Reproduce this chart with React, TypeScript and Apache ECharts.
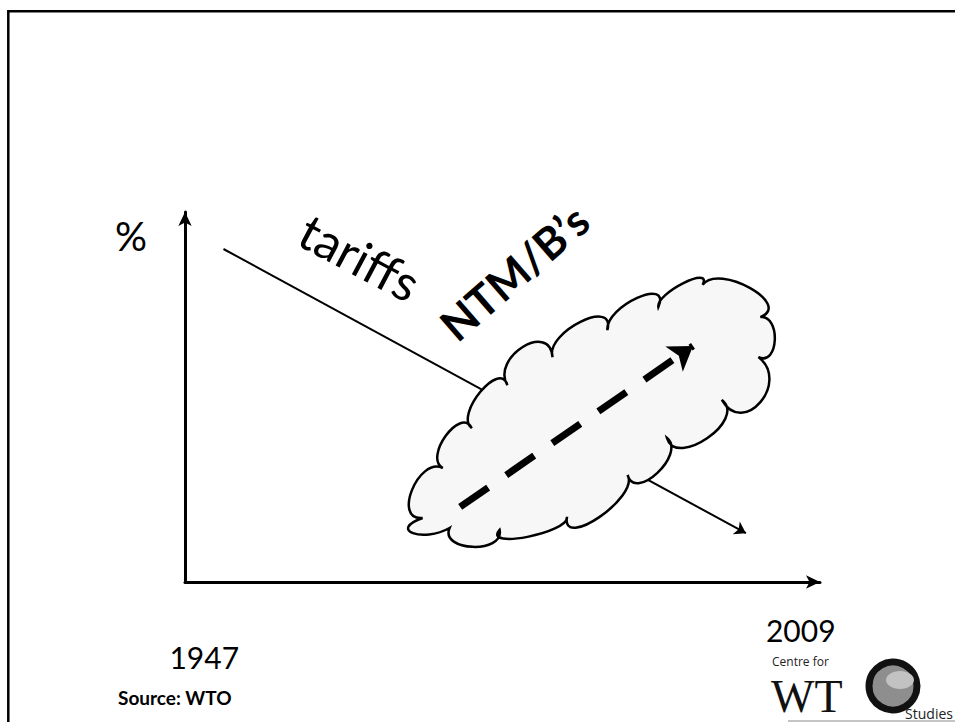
import React, { useEffect, useRef } from "react";
import * as echarts from "echarts";

// ---- data (years on x, % on y) ----
const YEAR_TICKS = [1947, 2009];
const Y_TITLE = "%";
const TARIFF_LABEL = "tariffs";
const NTM_LABEL = "NTM/B\u2019s";
const SOURCE_LABEL = "Source: WTO";

// tariffs: falling line
const tariffYears = [1949.0, 2003.3];
const tariffValues = [90.0, 13.2];

// NTM/B's: rising dashed arrow
const ntmYears = [1973.6, 1997.8];
const ntmValues = [20.3, 63.8];

// cloud outline: cusp points between lobes, and the outermost point of each lobe
const cloudCuspYears = [1969.7, 1971.8, 1974.8, 1978.5, 1983.2, 1988.9, 1994.2, 1998.8, 2004.8, 2004.6, 2000.8, 1995.1, 1991.0, 1984.7, 1977.7, 1972.5];
const cloudCuspValues = [17.3, 30.8, 41.6, 53.2, 60.8, 68.1, 74.3, 80.3, 71.6, 60.8, 49.2, 38.9, 28.9, 17.6, 14.1, 14.6];
const cloudPeakYears = [1968.6, 1972.1, 1975.7, 1980.1, 1986.1, 1992.0, 1996.8, 2003.7, 2006.3, 2004.8, 1999.3, 1994.1, 1988.1, 1980.6, 1974.9, 1968.7];
const cloudPeakValues = [24.9, 39.5, 51.4, 63.5, 70.3, 76.8, 80.8, 79.5, 65.4, 48.6, 38.9, 29.5, 17.6, 12.2, 9.5, 13.2];

const FONT = "Lato, 'Open Sans', sans-serif";

function makeAxisLine() {
  return {
    show: true,
    symbol: ["none", "arrow"],
    symbolSize: [10, 14],
    lineStyle: { color: "#000", width: 3 },
  };
}

export default function App() {
  const ref = useRef<HTMLDivElement>(null);

  useEffect(() => {
    const chart = echarts.init(ref.current as HTMLDivElement, null, { renderer: "svg" });

    const cloudRender = (params: any, api: any) => {
      const n = cloudCuspYears.length;
      const cusp = cloudCuspYears.map((x, i) => api.coord([x, cloudCuspValues[i]]));
      const peak = cloudPeakYears.map((x, i) => api.coord([x, cloudPeakValues[i]]));
      let d = `M${cusp[0][0]},${cusp[0][1]}`;
      const s = 0.3;
      for (let i = 0; i < n; i++) {
        const a = cusp[i];
        const b = cusp[(i + 1) % n];
        const p = peak[i];
        const mx = (a[0] + b[0]) / 2;
        const my = (a[1] + b[1]) / 2;
        const dx = (p[0] - mx) / 0.75;
        const dy = (p[1] - my) / 0.75;
        const c1x = a[0] + dx + s * (a[0] - mx);
        const c1y = a[1] + dy + s * (a[1] - my);
        const c2x = b[0] + dx + s * (b[0] - mx);
        const c2y = b[1] + dy + s * (b[1] - my);
        d += ` C${c1x},${c1y} ${c2x},${c2y} ${b[0]},${b[1]}`;
      }
      d += " Z";
      return {
        type: "path",
        shape: { pathData: d },
        style: { fill: "#f7f7f7", stroke: "#000", lineWidth: 2.5 },
      };
    };

    const option: any = {
      animation: false,
      backgroundColor: "#ffffff",
      grid: { left: 185, right: 135, top: 212, bottom: 140, outerBoundsMode: "none" },
      xAxis: {
        type: "value",
        min: 1945,
        max: 2011,
        splitLine: { show: false },
        axisTick: { show: false },
        axisLine: makeAxisLine(),
        axisLabel: {
          show: true,
          customValues: YEAR_TICKS,
          margin: 38,
          verticalAlign: "top",
          formatter: (v: number) => (v === YEAR_TICKS[0] ? `{low|${v}}` : `{high|${v}}`),
          rich: {
            low: { fontSize: 30, lineHeight: 74, fontFamily: FONT, color: "#000" },
            high: { fontSize: 30, lineHeight: 20, fontFamily: FONT, color: "#000" },
          },
        },
      },
      yAxis: {
        type: "value",
        min: 0,
        max: 100,
        splitLine: { show: false },
        axisTick: { show: false },
        axisLabel: { show: false },
        axisLine: makeAxisLine(),
      },
      series: [
        {
          type: "lines",
          coordinateSystem: "cartesian2d",
          z: 2,
          silent: true,
          symbol: ["none", "arrow"],
          symbolSize: 11,
          lineStyle: { color: "#000", width: 2, opacity: 1, curveness: 0 },
          data: [{ coords: tariffYears.map((x, i) => [x, tariffValues[i]]) }],
        },
        {
          type: "custom",
          coordinateSystem: "cartesian2d",
          z: 3,
          silent: true,
          clip: false,
          renderItem: cloudRender,
          data: [[cloudCuspYears[0], cloudCuspValues[0]]],
        },
        {
          type: "lines",
          coordinateSystem: "cartesian2d",
          z: 4,
          silent: true,
          symbol: ["none", "arrow"],
          symbolSize: [22, 23],
          lineStyle: { color: "#000", width: 7, opacity: 1, type: [34, 22], curveness: 0 },
          data: [{ coords: ntmYears.map((x, i) => [x, ntmValues[i]]) }],
        },
      ],
      graphic: [
        {
          type: "rect",
          silent: true,
          shape: { x: 8.3, y: 11.2, width: 1000, height: 1000 },
          style: { fill: "none", stroke: "#000", lineWidth: 2.5 },
        },
        {
          type: "text",
          x: 131,
          y: 236,
          style: { text: Y_TITLE, font: `40px ${FONT}`, fill: "#000", align: "center", verticalAlign: "middle" },
        },
        {
          type: "text",
          x: 360,
          y: 257,
          rotation: (-28 * Math.PI) / 180,
          style: { text: TARIFF_LABEL, font: `50px ${FONT}`, fill: "#000", align: "center", verticalAlign: "middle" },
        },
        {
          type: "text",
          x: 514,
          y: 272,
          rotation: (41 * Math.PI) / 180,
          style: { text: NTM_LABEL, font: `bold 44px ${FONT}`, fill: "#000", align: "center", verticalAlign: "middle" },
        },
        {
          type: "text",
          x: 118,
          y: 697,
          style: { text: SOURCE_LABEL, font: `bold 19px ${FONT}`, fill: "#000", align: "left", verticalAlign: "middle" },
        },
        // logo: Centre for WTO Studies
        {
          type: "text",
          x: 772,
          y: 661,
          style: { text: "Centre for", font: `12px 'Open Sans', sans-serif`, lineHeight: 12, fill: "#222", align: "left", verticalAlign: "middle" },
        },
        {
          type: "text",
          x: 771,
          y: 696,
          style: { text: "WT", font: `46px 'Liberation Serif', serif`, lineHeight: 40, fill: "#111", align: "left", verticalAlign: "middle" },
        },
        {
          type: "circle",
          shape: { cx: 893, cy: 686, r: 24 },
          style: { fill: "#8e8e8e", stroke: "#111", lineWidth: 7 },
        },
        {
          type: "ellipse",
          shape: { cx: 900, cy: 680, rx: 14, ry: 9 },
          style: { fill: "#c2c2c2" },
        },
        {
          type: "text",
          x: 953,
          y: 713,
          style: { text: "Studies", font: `14px 'Open Sans', sans-serif`, lineHeight: 14, fill: "#222", align: "right", verticalAlign: "middle" },
        },
        {
          type: "line",
          shape: { x1: 788, y1: 721, x2: 955, y2: 721 },
          style: { stroke: "#888", lineWidth: 1 },
        },
      ],
    };

    chart.setOption(option);
    return () => chart.dispose();
  }, []);

  return (
    <div
      ref={ref}
      style={{ position: "fixed", left: 0, top: 0, width: 955, height: 722, background: "#fff" }}
    />
  );
}
